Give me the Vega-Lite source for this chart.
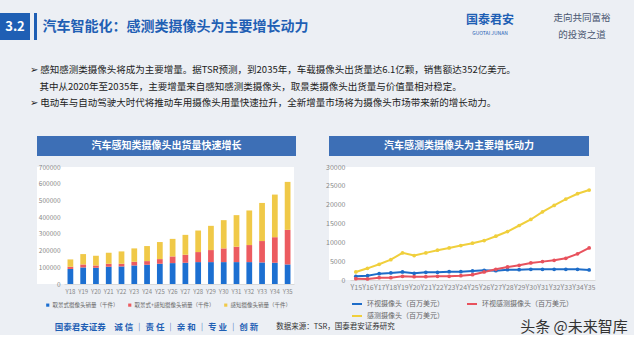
{
  "$schema": "https://vega.github.io/schema/vega-lite/v6.json",
  "background": "#eceff4",
  "padding": {"left": 0, "top": 13, "right": 0, "bottom": 0},
  "config": {
    "font": "Noto Sans CJK SC",
    "view": {"stroke": null},
    "concat": {"spacing": 0},
    "axis": {"labelFont": "Noto Sans CJK SC", "labelColor": "#888", "domainColor": "#d9d9d9", "ticks": false, "tickSize": 0, "grid": false, "title": null},
    "legend": {"labelFont": "Noto Sans CJK SC", "labelColor": "#666", "title": null, "padding": 0},
    "title": {"font": "Noto Sans CJK SC"}
  },
  "datasets": {
    "bars": [
      {"year": "Y18", "series": "取景式摄像头销量（千件）", "k": 1, "value": 90000},
      {"year": "Y18", "series": "取景式+感知摄像头销量（千件）", "k": 2, "value": 13000},
      {"year": "Y18", "series": "感知摄像头销量（千件）", "k": 3, "value": 44000},
      {"year": "Y19", "series": "取景式摄像头销量（千件）", "k": 1, "value": 99000},
      {"year": "Y19", "series": "取景式+感知摄像头销量（千件）", "k": 2, "value": 18000},
      {"year": "Y19", "series": "感知摄像头销量（千件）", "k": 3, "value": 62000},
      {"year": "Y20", "series": "取景式摄像头销量（千件）", "k": 1, "value": 97000},
      {"year": "Y20", "series": "取景式+感知摄像头销量（千件）", "k": 2, "value": 14000},
      {"year": "Y20", "series": "感知摄像头销量（千件）", "k": 3, "value": 58000},
      {"year": "Y21", "series": "取景式摄像头销量（千件）", "k": 1, "value": 103000},
      {"year": "Y21", "series": "取景式+感知摄像头销量（千件）", "k": 2, "value": 18000},
      {"year": "Y21", "series": "感知摄像头销量（千件）", "k": 3, "value": 66000},
      {"year": "Y22", "series": "取景式摄像头销量（千件）", "k": 1, "value": 105000},
      {"year": "Y22", "series": "取景式+感知摄像头销量（千件）", "k": 2, "value": 16000},
      {"year": "Y22", "series": "感知摄像头销量（千件）", "k": 3, "value": 74000},
      {"year": "Y23", "series": "取景式摄像头销量（千件）", "k": 1, "value": 111000},
      {"year": "Y23", "series": "取景式+感知摄像头销量（千件）", "k": 2, "value": 22000},
      {"year": "Y23", "series": "感知摄像头销量（千件）", "k": 3, "value": 80000},
      {"year": "Y24", "series": "取景式摄像头销量（千件）", "k": 1, "value": 115000},
      {"year": "Y24", "series": "取景式+感知摄像头销量（千件）", "k": 2, "value": 22000},
      {"year": "Y24", "series": "感知摄像头销量（千件）", "k": 3, "value": 90000},
      {"year": "Y25", "series": "取景式摄像头销量（千件）", "k": 1, "value": 121000},
      {"year": "Y25", "series": "取景式+感知摄像头销量（千件）", "k": 2, "value": 28000},
      {"year": "Y25", "series": "感知摄像头销量（千件）", "k": 3, "value": 102000},
      {"year": "Y26", "series": "取景式摄像头销量（千件）", "k": 1, "value": 125000},
      {"year": "Y26", "series": "取景式+感知摄像头销量（千件）", "k": 2, "value": 40000},
      {"year": "Y26", "series": "感知摄像头销量（千件）", "k": 3, "value": 105000},
      {"year": "Y27", "series": "取景式摄像头销量（千件）", "k": 1, "value": 127000},
      {"year": "Y27", "series": "取景式+感知摄像头销量（千件）", "k": 2, "value": 48000},
      {"year": "Y27", "series": "感知摄像头销量（千件）", "k": 3, "value": 119000},
      {"year": "Y28", "series": "取景式摄像头销量（千件）", "k": 1, "value": 131000},
      {"year": "Y28", "series": "取景式+感知摄像头销量（千件）", "k": 2, "value": 60000},
      {"year": "Y28", "series": "感知摄像头销量（千件）", "k": 3, "value": 129000},
      {"year": "Y29", "series": "取景式摄像头销量（千件）", "k": 1, "value": 131000},
      {"year": "Y29", "series": "取景式+感知摄像头销量（千件）", "k": 2, "value": 72000},
      {"year": "Y29", "series": "感知摄像头销量（千件）", "k": 3, "value": 145000},
      {"year": "Y30", "series": "取景式摄像头销量（千件）", "k": 1, "value": 131000},
      {"year": "Y30", "series": "取景式+感知摄像头销量（千件）", "k": 2, "value": 82000},
      {"year": "Y30", "series": "感知摄像头销量（千件）", "k": 3, "value": 169000},
      {"year": "Y31", "series": "取景式摄像头销量（千件）", "k": 1, "value": 131000},
      {"year": "Y31", "series": "取景式+感知摄像头销量（千件）", "k": 2, "value": 92000},
      {"year": "Y31", "series": "感知摄像头销量（千件）", "k": 3, "value": 189000},
      {"year": "Y32", "series": "取景式摄像头销量（千件）", "k": 1, "value": 131000},
      {"year": "Y32", "series": "取景式+感知摄像头销量（千件）", "k": 2, "value": 102000},
      {"year": "Y32", "series": "感知摄像头销量（千件）", "k": 3, "value": 207000},
      {"year": "Y33", "series": "取景式摄像头销量（千件）", "k": 1, "value": 129000},
      {"year": "Y33", "series": "取景式+感知摄像头销量（千件）", "k": 2, "value": 128000},
      {"year": "Y33", "series": "感知摄像头销量（千件）", "k": 3, "value": 228000},
      {"year": "Y34", "series": "取景式摄像头销量（千件）", "k": 1, "value": 127000},
      {"year": "Y34", "series": "取景式+感知摄像头销量（千件）", "k": 2, "value": 153000},
      {"year": "Y34", "series": "感知摄像头销量（千件）", "k": 3, "value": 255000},
      {"year": "Y35", "series": "取景式摄像头销量（千件）", "k": 1, "value": 117000},
      {"year": "Y35", "series": "取景式+感知摄像头销量（千件）", "k": 2, "value": 207000},
      {"year": "Y35", "series": "感知摄像头销量（千件）", "k": 3, "value": 287000}
    ],
    "lines": [
      {"year": "Y15", "环视摄像头（百万美元）": 980, "环视感测摄像头（百万美元）": 350, "感测摄像头（百万美元）": 2130},
      {"year": "Y16", "环视摄像头（百万美元）": 1150, "环视感测摄像头（百万美元）": 270, "感测摄像头（百万美元）": 3100},
      {"year": "Y17", "环视摄像头（百万美元）": 1690, "环视感测摄像头（百万美元）": 620, "感测摄像头（百万美元）": 4170},
      {"year": "Y18", "环视摄像头（百万美元）": 1860, "环视感测摄像头（百万美元）": 620, "感测摄像头（百万美元）": 5400},
      {"year": "Y19", "环视摄像头（百万美元）": 2130, "环视感测摄像头（百万美元）": 980, "感测摄像头（百万美元）": 7200},
      {"year": "Y20", "环视摄像头（百万美元）": 1780, "环视感测摄像头（百万美元）": 890, "感测摄像头（百万美元）": 6500},
      {"year": "Y21", "环视摄像头（百万美元）": 2040, "环视感测摄像头（百万美元）": 890, "感测摄像头（百万美元）": 7200},
      {"year": "Y22", "环视摄像头（百万美元）": 2040, "环视感测摄像头（百万美元）": 980, "感测摄像头（百万美元）": 7900},
      {"year": "Y23", "环视摄像头（百万美元）": 2220, "环视感测摄像头（百万美元）": 980, "感测摄像头（百万美元）": 8500},
      {"year": "Y24", "环视摄像头（百万美元）": 2220, "环视感测摄像头（百万美元）": 1150, "感测摄像头（百万美元）": 9140},
      {"year": "Y25", "环视摄像头（百万美元）": 2400, "环视感测摄像头（百万美元）": 1420, "感测摄像头（百万美元）": 9760},
      {"year": "Y26", "环视摄像头（百万美元）": 2570, "环视感测摄像头（百万美元）": 2130, "感测摄像头（百万美元）": 10470},
      {"year": "Y27", "环视摄像头（百万美元）": 2480, "环视感测摄像头（百万美元）": 2840, "感测摄像头（百万美元）": 11630},
      {"year": "Y28", "环视摄像头（百万美元）": 2750, "环视感测摄像头（百万美元）": 3460, "感测摄像头（百万美元）": 12870},
      {"year": "Y29", "环视摄像头（百万美元）": 2750, "环视感测摄像头（百万美元）": 3900, "感测摄像头（百万美元）": 14470},
      {"year": "Y30", "环视摄像头（百万美元）": 2840, "环视感测摄像头（百万美元）": 4530, "感测摄像头（百万美元）": 16070},
      {"year": "Y31", "环视摄像头（百万美元）": 2840, "环视感测摄像头（百万美元）": 4880, "感测摄像头（百万美元）": 18100},
      {"year": "Y32", "环视摄像头（百万美元）": 2840, "环视感测摄像头（百万美元）": 5240, "感测摄像头（百万美元）": 19800},
      {"year": "Y33", "环视摄像头（百万美元）": 2840, "环视感测摄像头（百万美元）": 5770, "感测摄像头（百万美元）": 21480},
      {"year": "Y34", "环视摄像头（百万美元）": 2840, "环视感测摄像头（百万美元）": 6920, "感测摄像头（百万美元）": 22900},
      {"year": "Y35", "环视摄像头（百万美元）": 2660, "环视感测摄像头（百万美元）": 8520, "感测摄像头（百万美元）": 23880}
    ]
  },
  "resolve": {"scale": {"color": "independent"}, "legend": {"color": "independent"}},
  "spacing": 25,
  "vconcat": [
    {
      "hconcat": [
        {
          "width": 30, "height": 27,
          "view": {"fill": "#1f5fb4", "stroke": null},
          "data": {"values": [{"t": "3.2"}]},
          "mark": {"type": "text", "color": "white", "fontSize": 13, "fontWeight": "bold"},
          "encoding": {"text": {"field": "t"}}
        },
        {
          "width": 4, "height": 27,
          "data": {"values": [{"t": ""}]},
          "mark": {"type": "text"},
          "encoding": {"text": {"field": "t"}}
        },
        {
          "width": 3, "height": 27,
          "view": {"fill": "#1f5fb4", "stroke": null},
          "data": {"values": [{"t": ""}]},
          "mark": {"type": "text"},
          "encoding": {"text": {"field": "t"}}
        },
        {
          "width": 277, "height": 27,
          "data": {"values": [{"t": "汽车智能化：感测类摄像头为主要增长动力"}]},
          "mark": {"type": "text", "color": "#1f5fb4", "fontSize": 14, "fontWeight": "bold"},
          "encoding": {"text": {"field": "t"}}
        },
        {
          "width": 126, "height": 27,
          "data": {"values": [{"t": ""}]},
          "mark": {"type": "text"},
          "encoding": {"text": {"field": "t"}}
        },
        {
          "width": 100, "height": 27,
          "layer": [
            {
              "data": {"values": [{"t": "国泰君安"}]},
              "mark": {"type": "text", "color": "#1f5fb4", "fontSize": 12, "fontWeight": "bold"},
              "encoding": {"text": {"field": "t"}, "y": {"field": "t", "type": "nominal", "axis": null, "scale": {"domain": ["国泰君安", "GUOTAI JUNAN"], "padding": 0.6}}}
            },
            {
              "data": {"values": [{"t": "GUOTAI JUNAN"}]},
              "mark": {"type": "text", "color": "#1f5fb4", "fontSize": 5},
              "encoding": {"text": {"field": "t"}, "y": {"field": "t", "type": "nominal", "axis": null, "scale": {"domain": ["国泰君安", "GUOTAI JUNAN"], "padding": 0.6}}}
            }
          ]
        },
        {
          "width": 84, "height": 27,
          "data": {"values": [{"t": "走向共同富裕"}, {"t": "的投资之道"}]},
          "mark": {"type": "text", "color": "#4a5670", "fontSize": 9.5},
          "encoding": {"text": {"field": "t"}, "y": {"field": "t", "type": "nominal", "sort": null, "axis": null, "scale": {"padding": 0.3}}}
        }
      ]
    },
    {
      "spacing": 0,
      "resolve": {"scale": {"color": "independent"}, "legend": {"color": "independent"}},
      "vconcat": [
        {
          "title": {
            "text": [
              "➢ 感知感测类摄像头将成为主要增量。据TSR预测，到2035年，车载摄像头出货量达6.1亿颗，销售额达352亿美元。",
              "\u200b\u3000其中从2020年至2035年，主要增量来自感知感测类摄像头，取景类摄像头出货量与价值量相对稳定。",
              "➢ 电动车与自动驾驶大时代将推动车用摄像头用量快速拉升，全新增量市场将为摄像头市场带来新的增长动力。"
            ],
            "anchor": "start",
            "dx": 30,
            "fontSize": 9.5,
            "fontWeight": "normal",
            "color": "#222",
            "lineHeight": 16.5,
            "offset": 23
          },
          "spacing": 0,
          "resolve": {"scale": {"color": "independent"}, "legend": {"color": "independent"}},
          "hconcat": [
            {
              "width": 37, "height": 1,
              "data": {"values": [{"t": ""}]},
              "mark": {"type": "text"},
              "encoding": {"text": {"field": "t"}}
            },
            {
              "spacing": 8,
              "resolve": {"scale": {"color": "independent"}, "legend": {"color": "independent"}},
              "vconcat": [
                {
                  "width": 259, "height": 20,
                  "view": {"fill": "#3d6fb6", "stroke": null},
                  "data": {"values": [{"t": "汽车感知类摄像头出货量快速增长"}]},
                  "mark": {"type": "text", "color": "white", "fontSize": 10, "fontWeight": "bold"},
                  "encoding": {"text": {"field": "t"}}
                },
                {
                  "width": 257, "height": 117,
                  "view": {"fill": "white", "stroke": null},
                  "data": {"name": "bars"},
                  "mark": {"type": "bar"},
                  "encoding": {
                    "x": {"field": "year", "type": "ordinal", "sort": null, "scale": {"range": [27, 257], "paddingInner": 0.55, "paddingOuter": 0.275}, "axis": {"labelAngle": 0, "labelFontSize": 6, "labelPadding": 4}},
                    "y": {"field": "value", "type": "quantitative", "stack": "zero", "scale": {"domain": [0, 700000]}, "axis": {"values": [0, 100000, 200000, 300000, 400000, 500000, 600000, 700000], "format": "d", "labelFontSize": 6.5, "labelPadding": 4, "domain": false, "offset": -27}},
                    "color": {"field": "series", "type": "nominal", "scale": {"domain": ["取景式摄像头销量（千件）", "取景式+感知摄像头销量（千件）", "感知摄像头销量（千件）"], "range": ["#1c6fd1", "#ec5b60", "#f0c948"]}, "legend": {"orient": "bottom", "direction": "horizontal", "labelFontSize": 5.5, "symbolType": "square", "symbolSize": 10, "symbolOffset": 8, "columnPadding": 0, "labelOffset": 2, "offset": 8}},
                    "order": {"field": "k", "type": "quantitative"}
                  }
                }
              ]
            },
            {
              "width": 29, "height": 1,
              "data": {"values": [{"t": ""}]},
              "mark": {"type": "text"},
              "encoding": {"text": {"field": "t"}}
            },
            {
              "spacing": 7,
              "resolve": {"scale": {"color": "independent"}, "legend": {"color": "independent"}},
              "vconcat": [
                {
                  "width": 260, "height": 20,
                  "view": {"fill": "#3d6fb6", "stroke": null},
                  "data": {"values": [{"t": "汽车感测类摄像头为主要增长动力"}]},
                  "mark": {"type": "text", "color": "white", "fontSize": 10, "fontWeight": "bold"},
                  "encoding": {"text": {"field": "t"}}
                },
                {
                  "width": 266, "height": 113,
                  "view": {"fill": "white", "stroke": null},
                  "data": {"name": "lines"},
                  "transform": [{"fold": ["环视摄像头（百万美元）", "环视感测摄像头（百万美元）", "感测摄像头（百万美元）"], "as": ["series", "value"]}],
                  "mark": {"type": "line", "strokeWidth": 2, "point": {"size": 14, "filled": true}},
                  "encoding": {
                    "x": {"field": "year", "type": "ordinal", "sort": null, "scale": {"type": "point", "padding": 0.5, "range": [21, 266]}, "axis": {"labelAngle": 0, "labelFontSize": 7, "labelPadding": 3, "labelOverlap": false, "labelBound": false}},
                    "y": {"field": "value", "type": "quantitative", "scale": {"domain": [0, 30000]}, "axis": {"values": [0, 5000, 10000, 15000, 20000, 25000, 30000], "format": "d", "labelFontSize": 7, "labelPadding": 5, "domain": false, "offset": -21}},
                    "color": {"field": "series", "type": "nominal", "scale": {"domain": ["环视摄像头（百万美元）", "环视感测摄像头（百万美元）", "感测摄像头（百万美元）"], "range": ["#1d6cc8", "#e8525d", "#f0cf3c"]}, "legend": {"orient": "bottom", "columns": 2, "labelFontSize": 7, "symbolType": "stroke", "symbolStrokeWidth": 2, "symbolSize": 100, "symbolOffset": 22, "columnPadding": 0, "rowPadding": 2, "offset": 8}}
                  }
                }
              ]
            }
          ]
        },
        {
          "hconcat": [
            {
              "width": 45, "height": 12,
              "data": {"values": [{"t": ""}]},
              "mark": {"type": "text"},
              "encoding": {"text": {"field": "t"}}
            },
            {
              "width": 223, "height": 12,
              "data": {"values": [{"t": "国泰君安证券\u2003诚 信 ｜ 责 任 ｜ 亲 和 ｜ 专 业 ｜ 创 新"}]},
              "mark": {"type": "text", "color": "#1f5fb4", "fontSize": 8.5, "fontWeight": "bold"},
              "encoding": {"text": {"field": "t"}}
            },
            {
              "width": 135, "height": 12,
              "data": {"values": [{"t": "数据来源：TSR，国泰君安证券研究"}]},
              "mark": {"type": "text", "color": "#333", "fontSize": 7.5},
              "encoding": {"text": {"field": "t"}}
            },
            {
              "width": 111, "height": 12,
              "data": {"values": [{"t": ""}]},
              "mark": {"type": "text"},
              "encoding": {"text": {"field": "t"}}
            },
            {
              "width": 120, "height": 12,
              "data": {"values": [{"t": "头条 @未来智库"}]},
              "mark": {"type": "text", "color": "#333", "fontSize": 15},
              "encoding": {"text": {"field": "t"}}
            }
          ]
        }
      ]
    }
  ]
}
